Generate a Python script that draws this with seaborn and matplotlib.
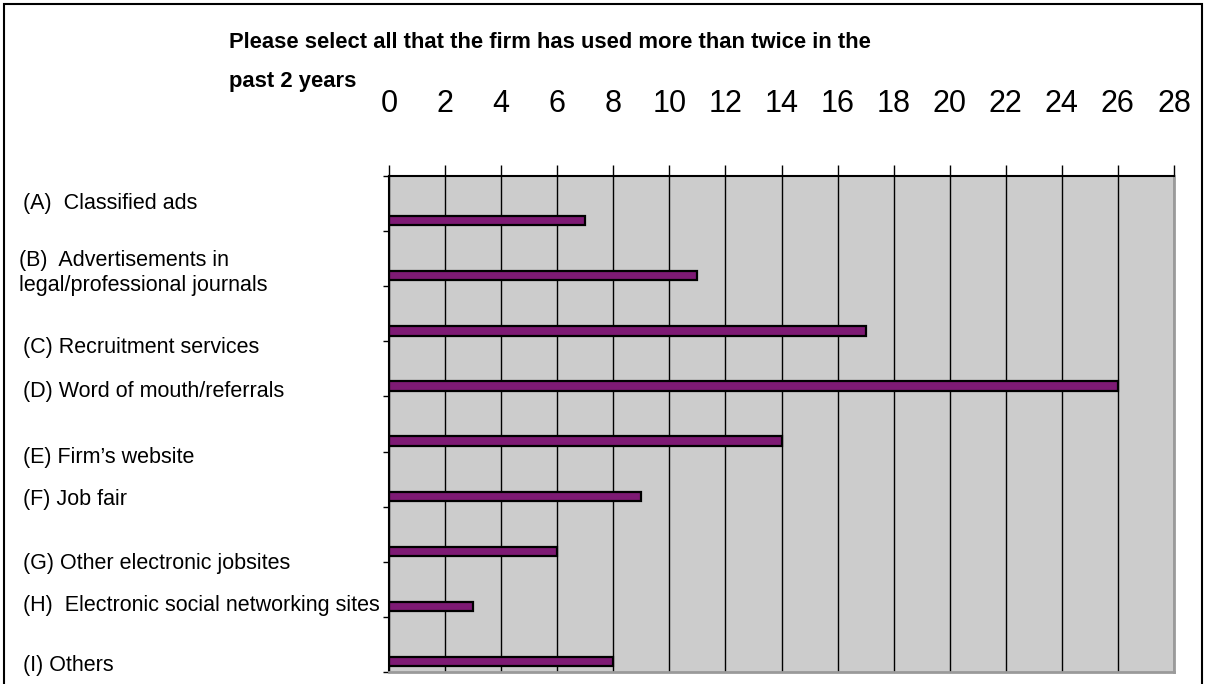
import matplotlib
matplotlib.use("Agg")
import matplotlib.pyplot as plt
from matplotlib.patches import Rectangle
import numpy as np
import pandas as pd
import seaborn as sns

# Survey answers and counts
categories = [
    "(A)  Classified ads",
    "(B)  Advertisements in\nlegal/professional journals",
    "(C) Recruitment services",
    "(D) Word of mouth/referrals",
    "(E) Firm\u2019s website",
    "(F) Job fair",
    "(G) Other electronic jobsites",
    "(H)  Electronic social networking sites",
    "(I) Others",
]
counts = [7, 11, 17, 26, 14, 9, 6, 3, 8]
x_ticks = list(range(0, 29, 2))
title_lines = ["Please select all that the firm has used more than twice in the",
               "past 2 years"]

# Free-floating label placement (pixels from the figure's top-left)
label_x_px = [23, 19, 23, 23, 23, 23, 23, 23, 23]
label_y_px = [204, 273, 347, 392, 457, 500, 563, 605, 665]
title_y_px = [43, 82]

W, H = 1205, 684
sns.set_theme(style="white")
plt.rcParams["font.family"] = ["Liberation Sans", "DejaVu Sans"]

fig = plt.figure(figsize=(W / 100, H / 100), dpi=100)
fig.patch.set_facecolor("white")
ax = fig.add_axes([389 / W, 1 - 672 / H, (1174 - 389) / W, (672 - 176) / H])

df = pd.DataFrame({"category": categories, "count": counts})
sns.barplot(data=df, x="count", y="category", orient="h", color="#7e1a74",
            saturation=1, width=0.17, edgecolor="black", linewidth=1.6, ax=ax)

ax.set_facecolor("#cccccc")
ax.set_xlim(0, 28)
ax.set_ylim(8.19, -0.81)
ax.set_xticks(x_ticks)
ax.set_yticks(np.arange(-0.81, 8.2, 1.0))
ax.set_yticklabels([])
ax.set_xlabel("")
ax.set_ylabel("")

ax.xaxis.tick_top()
ax.tick_params(axis="x", which="major", direction="out", length=8, width=1,
               color="black", labelsize=22, pad=33, top=True, bottom=False,
               labeltop=True, labelbottom=False, labelcolor="black")
ax.tick_params(axis="y", which="major", direction="out", length=4, width=1,
               color="black", left=True, right=False)

ax.xaxis.grid(True, color="black", linewidth=1)
ax.yaxis.grid(False)
ax.set_axisbelow(True)

for side in ("top", "left"):
    ax.spines[side].set_color("black")
    ax.spines[side].set_linewidth(1.5)
for side in ("right", "bottom"):
    ax.spines[side].set_color("#9a9a9a")
    ax.spines[side].set_linewidth(2)

# Category labels sit in the left margin
for text, lx, ly in zip(categories, label_x_px, label_y_px):
    fig.text(lx / W, 1 - ly / H, text, ha="left", va="center", fontsize=15.5,
             color="black", linespacing=1.25)

# Two-line bold title
for line, ty in zip(title_lines, title_y_px):
    fig.text(229 / W, 1 - ty / H, line, ha="left", va="center", fontsize=15.8,
             fontweight="bold", color="black")

# Chart frame
fig.add_artist(Rectangle((4 / W, -0.1), (1202 - 4) / W, 1.1 - 4 / H,
                         transform=fig.transFigure, fill=False,
                         edgecolor="black", linewidth=1.5))

fig.savefig("out.png", dpi=100)
